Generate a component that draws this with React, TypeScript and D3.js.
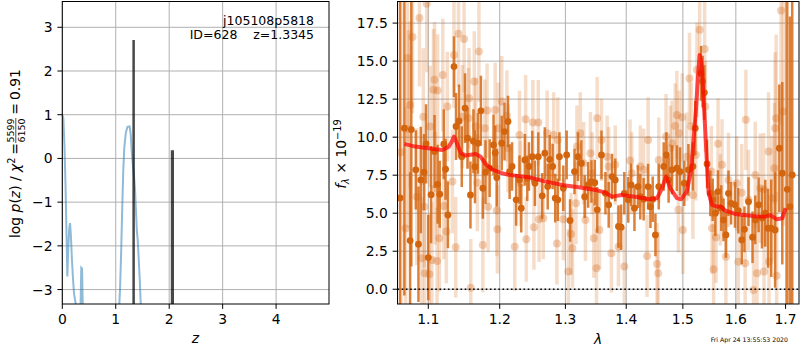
import React from 'react';
import * as d3 from 'd3';

// ---- left panel: p(z) ----
const pzZ = [0, 0.02, 0.04, 0.06, 0.08, 0.094, 0.11, 0.13, 0.145, 0.16, 0.18, 0.2, 0.22, 0.24, 0.26, 0.3,
  0.34, 0.355, 0.37, 0.385, 0.45, 1.0, 1.06, 1.08, 1.1, 1.12, 1.14, 1.16, 1.19, 1.22, 1.26, 1.28, 1.3,
  1.32, 1.345, 1.36, 1.38, 1.395, 1.41, 1.43, 1.45, 1.47, 1.5, 1.6];
const pzLog = [1.0, 0.92, 0.3, -0.6, -1.8, -2.7, -2.1, -1.6, -1.48, -1.75, -2.3, -2.75, -3.1, -3.25, -3.4, -4,
  -3.5, -2.5, -2.52, -3.5, -4.5, -4.5, -3.5, -3.0, -2.2, -1.2, -0.3, 0.25, 0.6, 0.72, 0.73, 0.55, 0.15,
  -0.15, -0.45, -0.7, -1.25, -1.65, -1.85, -2.3, -2.8, -3.4, -3.8, -4.5];
const zLines = [1.3345, 2.06];
const zLineTops = [2.71, 0.19];
const zLineWidths = [2.5, 3.2];
const zTicks = [0, 1, 2, 3, 4];
const pzTicks = [-3, -2, -1, 0, 1, 2, 3];

// ---- right panel: spectrum ----
const darkWave = [
  1.0628, 1.0684, 1.0759, 1.0775, 1.0834, 1.0869, 1.0900, 1.0943, 1.0970, 1.1000,
  1.1038, 1.1084, 1.1126, 1.1154, 1.1210, 1.1234, 1.1266, 1.1350, 1.1378, 1.1420,
  1.1458, 1.1504, 1.1538, 1.1580, 1.1622, 1.1644, 1.1686, 1.1728, 1.1756, 1.1794,
  1.1854, 1.1910, 1.1934, 1.1958, 1.2030, 1.2070, 1.2122, 1.2146, 1.2182, 1.2243,
  1.2293, 1.2319, 1.2374, 1.2410, 1.2435, 1.2486, 1.2526, 1.2578, 1.2638, 1.2678,
  1.2723, 1.2754, 1.2799, 1.2840, 1.2881, 1.2906, 1.2967, 1.3020, 1.3074, 1.3145,
  1.3201, 1.3255, 1.3309, 1.3365, 1.3419, 1.3474, 1.3513, 1.3584, 1.3650, 1.3704,
  1.3760, 1.3814, 1.3868, 1.3913, 1.3967, 1.4035, 1.4083, 1.4141, 1.4201, 1.4242,
  1.4300, 1.4378, 1.4419, 1.4459, 1.4507, 1.4566, 1.4654, 1.4702, 1.4742, 1.4802,
  1.4891, 1.4949, 1.5026, 1.5102, 1.5185, 1.5228, 1.5336, 1.5366, 1.5398, 1.5449,
  1.5511, 1.5555, 1.5606, 1.5657, 1.5719, 1.5762, 1.5808, 1.5857, 1.5908, 1.5983,
  1.6048, 1.6116, 1.6169, 1.6249, 1.6329, 1.6384, 1.6450, 1.6518, 1.6584, 1.6639,
  1.6705, 1.6785, 1.6871, 1.6932, 1.7034, 1.7090, 1.7138];
const darkFlux = [
  6.0, 10.59, 3.2, 10.5, 7.85, 2.96, 7.19, 7.7, 9.56, 2.08,
  6.22, 9.05, 6.9, 6.25, 9.54, 7.89, 4.89, 14.64, 10.7, 11.07,
  8.72, 11.91, 9.93, 6.2, 9.73, 8.06, 9.6, 11.73, 6.64, 7.7,
  7.96, 9.49, 8.97, 7.34, 9.6, 10.37, 11.03, 7.74, 8.07, 5.88,
  7.19, 5.33, 8.5, 7.3, 8.07, 8.72, 6.97, 8.72, 6.14, 8.95,
  6.75, 8.54, 8.07, 5.99, 5.88, 8.72, 6.64, 8.83, 4.52, 7.74,
  8.72, 8.29, 6.09, 6.86, 7.08, 7.01, 5.22, 8.83, 6.31, 5.55,
  7.41, 7.19, 4.13, 4.08, 6.31, 5.88, 6.86, 5.33, 6.75, 6.09,
  5.92, 6.75, 5.43, 5.92, 3.57, 6.75, 8.07, 8.83, 7.19, 7.85,
  7.96, 7.74, 6.97, 7.85, 8.07, 10.59, 14.2, 13.66, 12.93, 8.24,
  6.31, 5.88, 5.0, 6.42, 5.33, 4.56, 3.57, 6.31, 5.65, 5.55,
  5.17, 3.24, 3.94, 5.76, 3.42, 4.56, 5.55, 4.68, 5.0, 4.01,
  4.01, 3.9, 9.27, 7.63, 6.57, 5.43, 7.52];
const darkErr = [
  13, 11, 4.5, 9, 2.6, 3.8, 3.5, 2.5, 2.6, 2.8,
  3.2, 2.4, 2.6, 2.2, 2.3, 2.0, 2.2, 2.0, 2.2, 2.4,
  2.0, 2.3, 2.0, 2.2, 2.1, 2.4, 2.0, 2.3, 2.0, 2.1,
  1.9, 2.0, 1.8, 1.9, 1.8, 1.9, 1.7, 1.8, 1.6, 1.7,
  1.6, 1.6, 1.7, 1.5, 1.6, 1.7, 1.5, 1.6, 1.5, 1.7,
  1.5, 1.6, 1.5, 1.6, 1.4, 1.6, 1.5, 1.6, 1.4, 1.5,
  1.6, 1.5, 1.4, 1.5, 1.4, 1.5, 1.5, 1.6, 1.4, 1.5,
  1.5, 1.4, 1.4, 1.5, 1.4, 1.5, 1.4, 1.5, 1.4, 1.5,
  1.4, 1.5, 1.4, 1.5, 1.4, 1.5, 1.6, 1.5, 1.5, 1.6,
  1.5, 1.6, 1.5, 1.7, 1.6, 1.8, 1.8, 1.7, 1.8, 1.6,
  1.5, 1.4, 1.5, 1.4, 1.5, 1.4, 1.5, 1.5, 1.4, 1.5,
  1.5, 1.6, 1.5, 1.6, 1.7, 1.6, 1.8, 2.0, 2.2, 2.6,
  3.2, 3.8, 4.2, 6.0, 14, 12.5, 14];

const lightWave = [
  1.0640, 1.0700, 1.0724, 1.0737, 1.0759, 1.0790, 1.0847, 1.0882, 1.0913, 1.0934, 1.0947, 1.0953,
  1.0979, 1.1014, 1.1024, 1.1048, 1.1070, 1.1084, 1.1094, 1.1118, 1.1126, 1.1150,
  1.1196, 1.1210, 1.1244, 1.1258, 1.1328, 1.1350, 1.1374, 1.1412, 1.1467, 1.1490,
  1.1552, 1.1560, 1.1584, 1.1634, 1.1654, 1.1678, 1.1700, 1.1756, 1.1784, 1.1818,
  1.1832, 1.1934, 1.1958, 1.1966, 1.1980, 1.2030, 1.2106, 1.2122, 1.2222, 1.2293,
  1.2309, 1.2385, 1.2395, 1.2495, 1.2511, 1.2578, 1.2590, 1.2654, 1.2714, 1.2815,
  1.2866, 1.2880, 1.2967, 1.3046, 1.3090, 1.3112, 1.3168, 1.3184, 1.3238, 1.3293,
  1.3321, 1.3403, 1.3431, 1.3457, 1.3502, 1.3513, 1.3551, 1.3584, 1.3678, 1.3704,
  1.3749, 1.3814, 1.3868, 1.3967, 1.4065, 1.4095, 1.4242, 1.4300, 1.4360, 1.4378,
  1.4537, 1.4555, 1.4566, 1.4696, 1.4773, 1.4802, 1.4861, 1.4891, 1.4919, 1.4930,
  1.4989, 1.5000, 1.5072, 1.5121, 1.5153, 1.5185, 1.5241, 1.5260, 1.5310, 1.5404,
  1.5417, 1.5530, 1.5543, 1.5573, 1.5619, 1.5657, 1.5701, 1.5732, 1.5808, 1.5857,
  1.6016, 1.6048, 1.6116, 1.6183, 1.6197, 1.6249, 1.6349, 1.6384, 1.6418, 1.6484,
  1.6550, 1.6560, 1.6651, 1.6660, 1.6719, 1.6771, 1.6785, 1.6806, 1.6816, 1.6906,
  1.6952];
const lightFlux = [
  9.0, 4.0, 15.2, 10.53, 12.12, 16.58, 6.09, 17.83, 2.04, 11.35, 5.43, 1.05,
  18.77, 0.99, 10.7, 1.93, 13.11, 13.77, 6.64, 1.86, 13.07, 3.35,
  14.08, 5.48, 3.79, 12.01, 7.08, 15.41, 2.76, 16.8, 11.35, 16.45,
  11.25, 12.56, 0.1, 13.66, 10.7, 7.01, 15.63, 2.91, 10.59, 11.75,
  5.43, 11.79, 5.17, 3.94, 10.59, 12.34, 11.4, 9.27, 2.8, 10.15,
  6.97, 11.18, 3.29, 10.96, 4.08, 10.96, 4.6, 4.67, 10.26, 10.15,
  3.0, 9.82, 4.6, 1.16, 3.64, 2.7, 5.66, 9.38, 10.26, 8.29,
  4.56, 8.95, 7.63, 3.35, 1.38, 11.25, 3.9, 9.82, 8.72, 8.07,
  2.37, 8.18, 2.8, 1.49, 8.46, 7.63, 8.07, 7.85, 2.19, 9.82,
  1.66, 1.05, 8.5, 10.04, 9.27, 9.6, 10.74, 11.46, 5.22, 10.26,
  11.31, 3.9, 8.72, 13.86, 10.7, 6.2, 8.83, 14.43, 17.06, 15.79,
  12.01, 7.74, 4.01, 1.31, 3.42, 9.56, 5.88, 8.18, 2.14, 7.19,
  6.97, 1.81, 6.35, 1.71, 11.14, 5.88, -0.05, 7.52, 1.05, 6.64,
  6.57, 1.16, 9.05, 1.81, 5.99, 7.96, 10.59, 11.25, 0.88, 18.33,
  11.69];
const lightErr = [
  10, 8, 5.5, 6.5, 5.5, 5, 4.5, 4.5, 4, 4.5, 4, 4,
  4.5, 4, 4, 3.8, 4, 3.8, 3.7, 3.5, 3.7, 3.5,
  3.7, 3.5, 3.4, 3.6, 3.4, 3.5, 3.3, 3.5, 3.4, 3.5,
  3.3, 3.3, 3.2, 3.3, 3.2, 3.2, 3.3, 3.1, 3.2, 3.1,
  3.0, 3.1, 3.0, 2.9, 3.0, 3.0, 3.0, 2.9, 2.9, 2.9,
  2.8, 2.9, 2.8, 2.8, 2.8, 2.8, 2.8, 2.7, 2.8, 2.8,
  2.7, 2.8, 2.7, 2.8, 2.7, 2.6, 2.7, 2.7, 2.7, 2.7,
  2.7, 2.7, 2.7, 2.6, 2.6, 2.7, 2.6, 2.7, 2.7, 2.6,
  2.6, 2.6, 2.6, 2.6, 2.7, 2.7, 2.7, 2.7, 2.7, 2.8,
  2.7, 2.7, 2.8, 2.8, 2.8, 2.8, 2.8, 2.9, 2.8, 2.8,
  2.9, 2.9, 2.9, 3.0, 2.9, 2.9, 3.0, 3.1, 3.1, 3.1,
  3.0, 3.0, 3.0, 3.0, 3.0, 3.0, 3.0, 3.0, 3.1, 3.1,
  3.1, 3.2, 3.2, 3.3, 3.3, 3.3, 3.5, 3.5, 3.5, 3.6,
  3.7, 3.7, 3.9, 3.9, 4.1, 4.3, 5.0, 5.5, 5.5, 7.5,
  7.5];

const modelWave = [1.0684, 1.0825, 1.1000, 1.1188, 1.1280, 1.1318, 1.1350, 1.1374, 1.1398, 1.1444,
  1.1514, 1.1584, 1.1654, 1.1724, 1.1794, 1.1888, 1.2005, 1.2131, 1.2435, 1.2689, 1.2943, 1.3211,
  1.3485, 1.3650, 1.3760, 1.3925, 1.4212, 1.4389, 1.4537, 1.4625, 1.4696, 1.4773, 1.4891, 1.4966,
  1.5072, 1.5153, 1.5196, 1.5241, 1.5279, 1.5309, 1.5332, 1.5355, 1.5385, 1.5417, 1.5449, 1.5479,
  1.5543, 1.5638, 1.5701, 1.5795, 1.5983, 1.6384, 1.6584, 1.6685, 1.6819, 1.6932, 1.7000];
const modelFlux = [9.56, 9.38, 9.27, 9.16, 9.38, 9.7, 10.04, 9.8, 9.5, 8.95,
  8.79, 8.85, 8.9, 8.72, 8.24, 7.89, 7.67, 7.52, 7.37, 7.08, 6.86, 6.71,
  6.53, 6.35, 6.09, 6.2, 6.05, 5.92, 5.99, 6.64, 7.41, 6.64, 5.99, 5.92,
  6.42, 7.85, 9.82, 11.8, 13.99, 15.4, 15.1, 14.43, 12.45, 10.26, 8.07, 6.31,
  5.55, 5.43, 5.45, 5.17, 4.95, 4.8, 4.77, 4.87, 4.6, 4.67, 5.33];

const lamTicks = [1.1, 1.2, 1.3, 1.4, 1.5, 1.6, 1.7];
const fluxTicks = [0, 2.5, 5, 7.5, 10, 12.5, 15, 17.5];

const FONT = 'DejaVu Sans, sans-serif';
const ORANGE = '#d4650f';
const TICK = 4.9;

const minus = (s: string) => s.replace('-', '\u2212');

export default function App() {
  const L = { x0: 62.3, x1: 329, y0: 1.5, y1: 304 };
  const R = { x0: 397.5, x1: 799, y0: 1.5, y1: 304 };

  const zScale = d3.scaleLinear().domain([0, 4.99]).range([L.x0, L.x1]);
  const pzScale = d3.scaleLinear().domain([-3.33, 3.59]).range([L.y1, L.y0]);
  const lamScale = d3.scaleLog().domain([1.0595, 1.728]).range([R.x0, R.x1]);
  const fScale = d3.scaleLinear().domain([-0.97, 18.92]).range([R.y1, R.y0]);

  const pzLine = d3.line<number>()
    .x((_, i) => zScale(pzZ[i]))
    .y((d) => pzScale(d));
  const modelLine = d3.line<number>()
    .x((_, i) => lamScale(modelWave[i]))
    .y((d) => fScale(d));

  return (
    <svg width={800} height={350} style={{ position: 'absolute', left: 0, top: 0 }}
      fontFamily={FONT}>
      <rect width={800} height={350} fill="#fff" />
      <defs>
        <clipPath id="clipL"><rect x={L.x0} y={L.y0} width={L.x1 - L.x0} height={L.y1 - L.y0} /></clipPath>
        <clipPath id="clipR"><rect x={R.x0} y={R.y0} width={R.x1 - R.x0} height={R.y1 - R.y0} /></clipPath>
      </defs>

      {/* ---------- left panel ---------- */}
      <g>
        {zTicks.map((t) => (
          <line key={'gz' + t} x1={zScale(t)} x2={zScale(t)} y1={L.y0} y2={L.y1} stroke="#b0b0b0" strokeWidth={1} />
        ))}
        {pzTicks.map((t) => (
          <line key={'gp' + t} x1={L.x0} x2={L.x1} y1={pzScale(t)} y2={pzScale(t)} stroke="#b0b0b0" strokeWidth={1} />
        ))}
        <g clipPath="url(#clipL)">
          <path d={pzLine(pzLog) || ''} fill="none" stroke="#1f77b4" strokeOpacity={0.5} strokeWidth={2} />
          {zLines.map((z, i) => (
            <line key={'zl' + i} x1={zScale(z)} x2={zScale(z)} y1={L.y1 + 2} y2={pzScale(zLineTops[i])}
              stroke="#000" strokeOpacity={0.72} strokeWidth={zLineWidths[i]} />
          ))}
        </g>
        <rect x={L.x0} y={L.y0} width={L.x1 - L.x0} height={L.y1 - L.y0} fill="none" stroke="#000" strokeWidth={1} />
        {zTicks.map((t) => (
          <g key={'tz' + t}>
            <line x1={zScale(t)} x2={zScale(t)} y1={L.y1} y2={L.y1 + TICK} stroke="#000" strokeWidth={1} />
            <text x={zScale(t)} y={324} fontSize={13.9} textAnchor="middle">{t}</text>
          </g>
        ))}
        {pzTicks.map((t) => (
          <g key={'tp' + t}>
            <line x1={L.x0 - TICK} x2={L.x0} y1={pzScale(t)} y2={pzScale(t)} stroke="#000" strokeWidth={1} />
            <text x={L.x0 - 9.7} y={pzScale(t)} dy="0.36em" fontSize={13.9} textAnchor="end">{minus(String(t))}</text>
          </g>
        ))}
        <text x={314} y={24.5} fontSize={12.5} textAnchor="end">j105108p5818</text>
        <text x={314} y={38.5} fontSize={12.5} textAnchor="end" style={{ whiteSpace: 'pre' }}>{'ID=628    z=1.3345'}</text>
        <text x={195.5} y={343} fontSize={13.9} textAnchor="middle" fontStyle="italic">z</text>
        <g transform="translate(20,153) rotate(-90)" fontSize={13.9}>
          <text x={-85} y={0}>
            log <tspan fontStyle="italic">p</tspan>(<tspan fontStyle="italic">z</tspan>) / <tspan fontStyle="italic">χ</tspan>
            <tspan dy={-5.5} fontSize={9.8}>2</tspan>
          </text>
          <text x={4} y={0} textAnchor="middle">=</text>
          <text x={22.5} y={-6} fontSize={9.5} textAnchor="middle">5599</text>
          <line x1={10} x2={35} y1={-4.2} y2={-4.2} stroke="#000" strokeWidth={0.7} />
          <text x={22.5} y={4.5} fontSize={9.5} textAnchor="middle">6150</text>
          <text x={44} y={0} textAnchor="middle">=</text>
          <text x={53} y={0}>0.91</text>
        </g>
      </g>

      {/* ---------- right panel ---------- */}
      <g>
        {lamTicks.map((t) => (
          <line key={'gl' + t} x1={lamScale(t)} x2={lamScale(t)} y1={R.y0} y2={R.y1} stroke="#b0b0b0" strokeWidth={1} />
        ))}
        {fluxTicks.map((t) => (
          <line key={'gf' + t} x1={R.x0} x2={R.x1} y1={fScale(t)} y2={fScale(t)} stroke="#b0b0b0" strokeWidth={1} />
        ))}
        <g clipPath="url(#clipR)">
          {lightWave.map((w, i) => (
            <line key={'le' + i} x1={lamScale(w)} x2={lamScale(w)}
              y1={fScale(lightFlux[i] - lightErr[i])} y2={fScale(lightFlux[i] + lightErr[i])}
              stroke={ORANGE} strokeOpacity={0.22} strokeWidth={3.5} />
          ))}
          {lightWave.map((w, i) => (
            <circle key={'lm' + i} cx={lamScale(w)} cy={fScale(lightFlux[i])} r={4}
              fill={ORANGE} fillOpacity={0.3} />
          ))}
          {darkWave.map((w, i) => (
            <line key={'de' + i} x1={lamScale(w)} x2={lamScale(w)}
              y1={fScale(darkFlux[i] - darkErr[i])} y2={fScale(darkFlux[i] + darkErr[i])}
              stroke={ORANGE} strokeOpacity={0.82} strokeWidth={2.5} />
          ))}
          {darkWave.map((w, i) => (
            <circle key={'dm' + i} cx={lamScale(w)} cy={fScale(darkFlux[i])} r={3.4} fill={ORANGE} />
          ))}
          <path d={modelLine(modelFlux) || ''} fill="none" stroke="red" strokeOpacity={0.7} strokeWidth={4}
            strokeLinejoin="round" />
          <line x1={R.x0} x2={R.x1} y1={fScale(0)} y2={fScale(0)} stroke="#000" strokeWidth={1.6}
            strokeDasharray="1.6,2.6" />
        </g>
        <rect x={R.x0} y={R.y0} width={R.x1 - R.x0} height={R.y1 - R.y0} fill="none" stroke="#000" strokeWidth={1} />
        {lamTicks.map((t) => (
          <g key={'tl' + t}>
            <line x1={lamScale(t)} x2={lamScale(t)} y1={R.y1} y2={R.y1 + TICK} stroke="#000" strokeWidth={1} />
            <text x={lamScale(t)} y={324} fontSize={13.9} textAnchor="middle">{t.toFixed(1)}</text>
          </g>
        ))}
        {fluxTicks.map((t) => (
          <g key={'tf' + t}>
            <line x1={R.x0 - TICK} x2={R.x0} y1={fScale(t)} y2={fScale(t)} stroke="#000" strokeWidth={1} />
            <text x={R.x0 - 9.7} y={fScale(t)} dy="0.36em" fontSize={13.9} textAnchor="end">{t.toFixed(1)}</text>
          </g>
        ))}
        <text x={598} y={344} fontSize={13.9} textAnchor="middle" fontStyle="italic">λ</text>
        <g transform="translate(346,154) rotate(-90)" fontSize={13.9}>
          <text x={0} y={0} textAnchor="middle">
            <tspan fontStyle="italic">f</tspan>
            <tspan dy={3} fontSize={9.8} fontStyle="italic">λ</tspan>
            <tspan dy={-3}> × 10</tspan>
            <tspan dy={-5.5} fontSize={9.8}>−19</tspan>
          </text>
        </g>
        <text x={788} y={342} fontSize={6.2} textAnchor="end">Fri Apr 24 13:55:53 2020</text>
      </g>
    </svg>
  );
}
